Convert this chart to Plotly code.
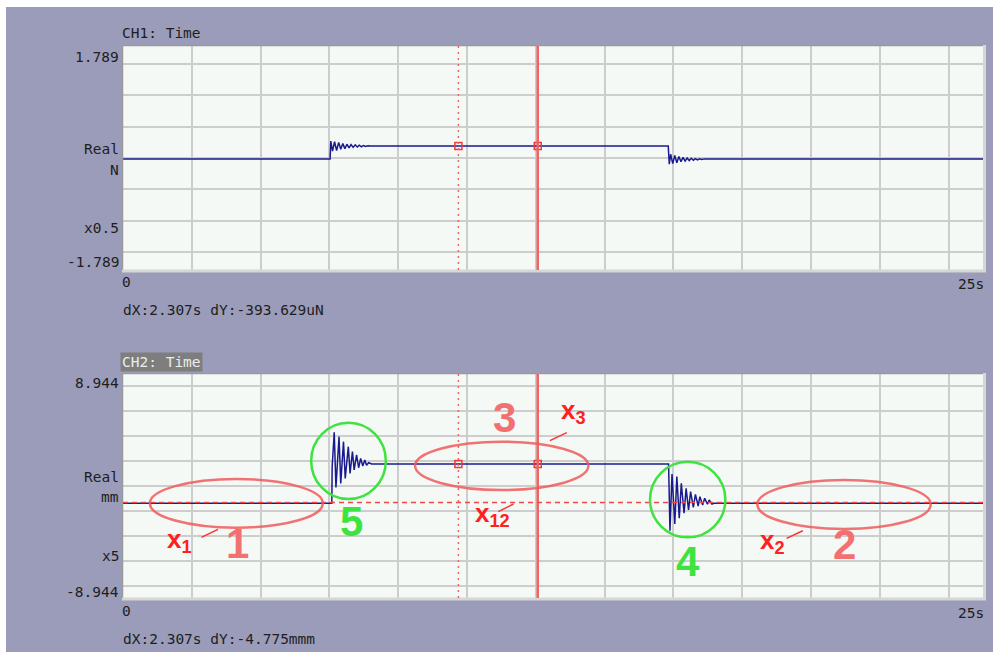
import numpy as np
import plotly.graph_objects as go

W, H = 993, 656

# ---- CH1: force (N) vs time (s) ----
ch1_time = [0.0, 6.02, 6.04, 6.09, 6.15, 6.21, 6.27, 6.33, 6.39, 6.45, 6.51, 6.57,
            6.63, 6.69, 6.75, 6.81, 6.87, 6.93, 6.99, 7.05, 7.12, 7.20,
            15.85, 15.88, 15.92, 15.98, 16.04, 16.10, 16.16, 16.22, 16.28, 16.34,
            16.40, 16.46, 16.52, 16.58, 16.64, 16.70, 16.76, 16.82, 16.90, 16.98,
            17.05, 25.0]
ch1_force = [-0.016, -0.016, 0.27, 0.11, 0.26, 0.12, 0.25, 0.14, 0.23, 0.15, 0.22, 0.16,
             0.215, 0.17, 0.21, 0.175, 0.205, 0.18, 0.20, 0.185, 0.195, 0.192,
             0.192, -0.10, 0.06, -0.09, 0.04, -0.075, 0.025, -0.06, 0.01, -0.05,
             0.0, -0.04, -0.005, -0.035, -0.01, -0.03, -0.012, -0.025, -0.014, -0.02,
             -0.016, -0.016]

# ---- CH2: displacement (mm) vs time (s) ----
ch2_time = [0.0, 6.07, 6.08, 6.14, 6.19, 6.28, 6.33, 6.41, 6.46, 6.55, 6.60, 6.67,
            6.72, 6.79, 6.85, 6.91, 6.97, 7.03, 7.08, 7.14, 7.23,
            15.86, 15.90, 15.96, 16.04, 16.10, 16.17, 16.23, 16.31, 16.37, 16.44,
            16.50, 16.58, 16.64, 16.72, 16.77, 16.85, 16.91, 16.99, 17.04, 17.12,
            17.18, 25.0]
ch2_disp = [-1.38, -1.38, 1.5, 4.29, -0.11, 3.94, 0.21, 3.54, 0.61, 3.14, 1.01, 2.74,
            1.28, 2.48, 1.46, 2.21, 1.60, 2.08, 1.65, 1.86, 1.76,
            1.76, -3.57, 0.96, -3.03, 0.75, -2.58, 0.21, -2.18, -0.19, -1.92,
            -0.45, -1.70, -0.67, -1.60, -0.85, -1.52, -0.98, -1.46, -1.12, -1.44,
            -1.38, -1.38]

t_span = 25.0
ch1_full = 1.789
ch2_full = 8.944
cursor_times = [9.75, 12.057]      # dotted cursor, solid cursor
ch2_hcursor = -1.31

# Region markers on CH2: (t0, t1, v0, v1)
red_regions = [(0.78, 5.81, 0.56, -3.33),
               (8.49, 13.53, 3.54, -0.32),
               (18.44, 23.48, 0.48, -3.43)]
green_regions = [(5.47, 7.64, 5.05, -1.04),
                 (15.32, 17.51, 1.94, -4.10)]
region_numbers = [("1", 3.34, -4.59, "#f27070"), ("2", 20.96, -4.71, "#f27070"),
                  ("3", 11.08, 5.43, "#f27070"), ("4", 16.41, -5.99, "#3fe33f"),
                  ("5", 6.63, -2.83, "#3fe33f")]
# (label html, t, v) anchored at left-middle
x_labels = [("x<sub>1</sub>", 1.22, -4.39),
            ("x<sub>12</sub>", 10.17, -2.29),
            ("x<sub>3</sub>", 12.67, 5.93),
            ("x<sub>2</sub>", 18.46, -4.42)]
leaders = [(2.28, 2.76, -4.10, -3.46),
           (10.91, 11.35, -2.05, -1.44),
           (12.41, 12.90, 3.62, 4.26),
           (19.29, 19.76, -4.18, -3.57)]


def px(x):
    return x / W


def py(y):
    return 1 - y / H


BG = "#9a9cb9"
PLOT_BG = "#f5f9f6"
GRID = "#cdcdcd"
TRACE = "#1a1a8e"
CURSOR = "#f06464"
MONO = "DejaVu Sans Mono"

fig = go.Figure()

fig.add_trace(go.Scatter(x=ch1_time, y=ch1_force, mode="lines",
                         line=dict(color=TRACE, width=1.5), xaxis="x", yaxis="y",
                         hoverinfo="skip"))
fig.add_trace(go.Scatter(x=ch2_time, y=ch2_disp, mode="lines",
                         line=dict(color=TRACE, width=1.5), xaxis="x2", yaxis="y2",
                         hoverinfo="skip"))

# cursor crossing markers
c1_vals = np.interp(cursor_times, ch1_time, ch1_force)
c2_vals = np.interp(cursor_times, ch2_time, ch2_disp)
fig.add_trace(go.Scatter(x=cursor_times, y=c1_vals, mode="markers", xaxis="x", yaxis="y",
                         marker=dict(symbol="square-open", size=7, color="#f03a3a",
                                     line=dict(width=1.5)), hoverinfo="skip"))
fig.add_trace(go.Scatter(x=cursor_times, y=c2_vals, mode="markers", xaxis="x2", yaxis="y2",
                         marker=dict(symbol="square-open", size=7, color="#f03a3a",
                                     line=dict(width=1.5)), hoverinfo="skip"))

x_dom = [px(123), px(983)]
top_dom = [py(270), py(46)]
bot_dom = [py(598), py(374)]

axis_common = dict(showticklabels=False, ticks="", showline=False, zeroline=False,
                   showgrid=True, gridcolor=GRID, gridwidth=2, fixedrange=True)

shapes = []
# white strips around the instrument panel
for x0, x1, y0, y1 in [(0, 6, 0, H), (0, W, 0, 7), (0, W, 652, H)]:
    shapes.append(dict(type="rect", xref="paper", yref="paper",
                       x0=px(x0), x1=px(x1), y0=py(y1), y1=py(y0),
                       fillcolor="white", line=dict(width=0), layer="below"))

# sunken borders around both plot areas
for top, bot in [(46, 270), (374, 598)]:
    shapes.append(dict(type="line", xref="paper", yref="paper", x0=px(122), x1=px(984),
                       y0=py(top - 0.5), y1=py(top - 0.5), line=dict(color="#9a9a9a", width=1.5)))
    shapes.append(dict(type="line", xref="paper", yref="paper", x0=px(122.5), x1=px(122.5),
                       y0=py(top - 1), y1=py(bot + 1), line=dict(color="#9a9a9a", width=1.5)))
    shapes.append(dict(type="line", xref="paper", yref="paper", x0=px(984.5), x1=px(984.5),
                       y0=py(top - 1), y1=py(bot + 2), line=dict(color="#d6d6d6", width=3)))
    shapes.append(dict(type="line", xref="paper", yref="paper", x0=px(122), x1=px(986),
                       y0=py(bot + 1), y1=py(bot + 1), line=dict(color="#d6d6d6", width=3)))

# vertical cursors in both panels
for xr, yr in [("x", "y domain"), ("x2", "y2 domain")]:
    shapes.append(dict(type="line", xref=xr, yref=yr, x0=cursor_times[0], x1=cursor_times[0],
                       y0=0, y1=1, line=dict(color=CURSOR, width=1.5, dash="2px,4px")))
    shapes.append(dict(type="line", xref=xr, yref=yr, x0=cursor_times[1], x1=cursor_times[1],
                       y0=0, y1=1, line=dict(color=CURSOR, width=2.5)))

# horizontal cursor on CH2
shapes.append(dict(type="line", xref="x2 domain", yref="y2", x0=0, x1=1,
                   y0=ch2_hcursor, y1=ch2_hcursor,
                   line=dict(color="#f04848", width=1.5, dash="5px,4px")))

for t0, t1, v0, v1 in red_regions:
    shapes.append(dict(type="circle", xref="x2", yref="y2", x0=t0, x1=t1, y0=v1, y1=v0,
                       line=dict(color="rgba(240,90,90,0.85)", width=2.5)))
for t0, t1, v0, v1 in green_regions:
    shapes.append(dict(type="circle", xref="x2", yref="y2", x0=t0, x1=t1, y0=v1, y1=v0,
                       line=dict(color="#3fe33f", width=2.5)))
for t0, t1, v0, v1 in leaders:
    shapes.append(dict(type="line", xref="x2", yref="y2", x0=t0, x1=t1, y0=v0, y1=v1,
                       line=dict(color="#ff3030", width=1.5)))

annotations = []


def label(text, x, y, xanchor="right", yanchor="middle", size=14.5, color="#1e1e1e", **kw):
    annotations.append(dict(text=text, x=px(x), y=py(y), xref="paper", yref="paper",
                            xanchor=xanchor, yanchor=yanchor, showarrow=False,
                            font=dict(family=MONO, size=size, color=color), **kw))


# channel headers
label("CH1: Time", 120, 33, xanchor="left")
label("CH2: Time", 120, 362, xanchor="left", color="#ececec", bgcolor="#7e7e7e",
      borderpad=1)

# y scale labels
for txt, y in [(f"{ch1_full:.3f}", 57), ("Real", 149), ("N", 170), ("x0.5", 228),
               (f"-{ch1_full:.3f}", 262)]:
    label(txt, 121, y)
for txt, y in [(f"{ch2_full:.3f}", 383), ("Real", 477), ("mm", 497), ("x5", 556),
               (f"-{ch2_full:.3f}", 592)]:
    label(txt, 121, y)

# x scale labels and readouts
for y0, readout in [(282, "dX:2.307s dY:-393.629uN"), (611, "dX:2.307s dY:-4.775mmm")]:
    label("0", 120, y0, xanchor="left")
    label(f"{t_span:g}s", 986, y0 + 2, xanchor="right")
    label(readout, 121, y0 + 28, xanchor="left")

for txt, t, v, col in region_numbers:
    annotations.append(dict(text=f"<b>{txt}</b>", x=t, y=v, xref="x2", yref="y2",
                            showarrow=False, xanchor="center", yanchor="middle",
                            font=dict(family="Liberation Sans", size=42, color=col)))
for txt, t, v in x_labels:
    annotations.append(dict(text=f"<b>{txt}</b>", x=t, y=v, xref="x2", yref="y2",
                            showarrow=False, xanchor="left", yanchor="middle",
                            font=dict(family="Liberation Sans", size=26, color="#ff2020")))

fig.update_layout(
    width=W, height=H, margin=dict(l=0, r=0, t=0, b=0),
    paper_bgcolor=BG, plot_bgcolor=PLOT_BG, showlegend=False,
    xaxis=dict(domain=x_dom, range=[0, t_span], dtick=2, tick0=0, anchor="y", **axis_common),
    yaxis=dict(domain=top_dom, range=[-ch1_full, ch1_full], dtick=0.5, tick0=0, anchor="x",
               **axis_common),
    xaxis2=dict(domain=x_dom, range=[0, t_span], dtick=2, tick0=0, anchor="y2", **axis_common),
    yaxis2=dict(domain=bot_dom, range=[-ch2_full, ch2_full], dtick=2, tick0=0, anchor="x2",
                **axis_common),
    shapes=shapes, annotations=annotations,
)

fig.write_html("out.html")
